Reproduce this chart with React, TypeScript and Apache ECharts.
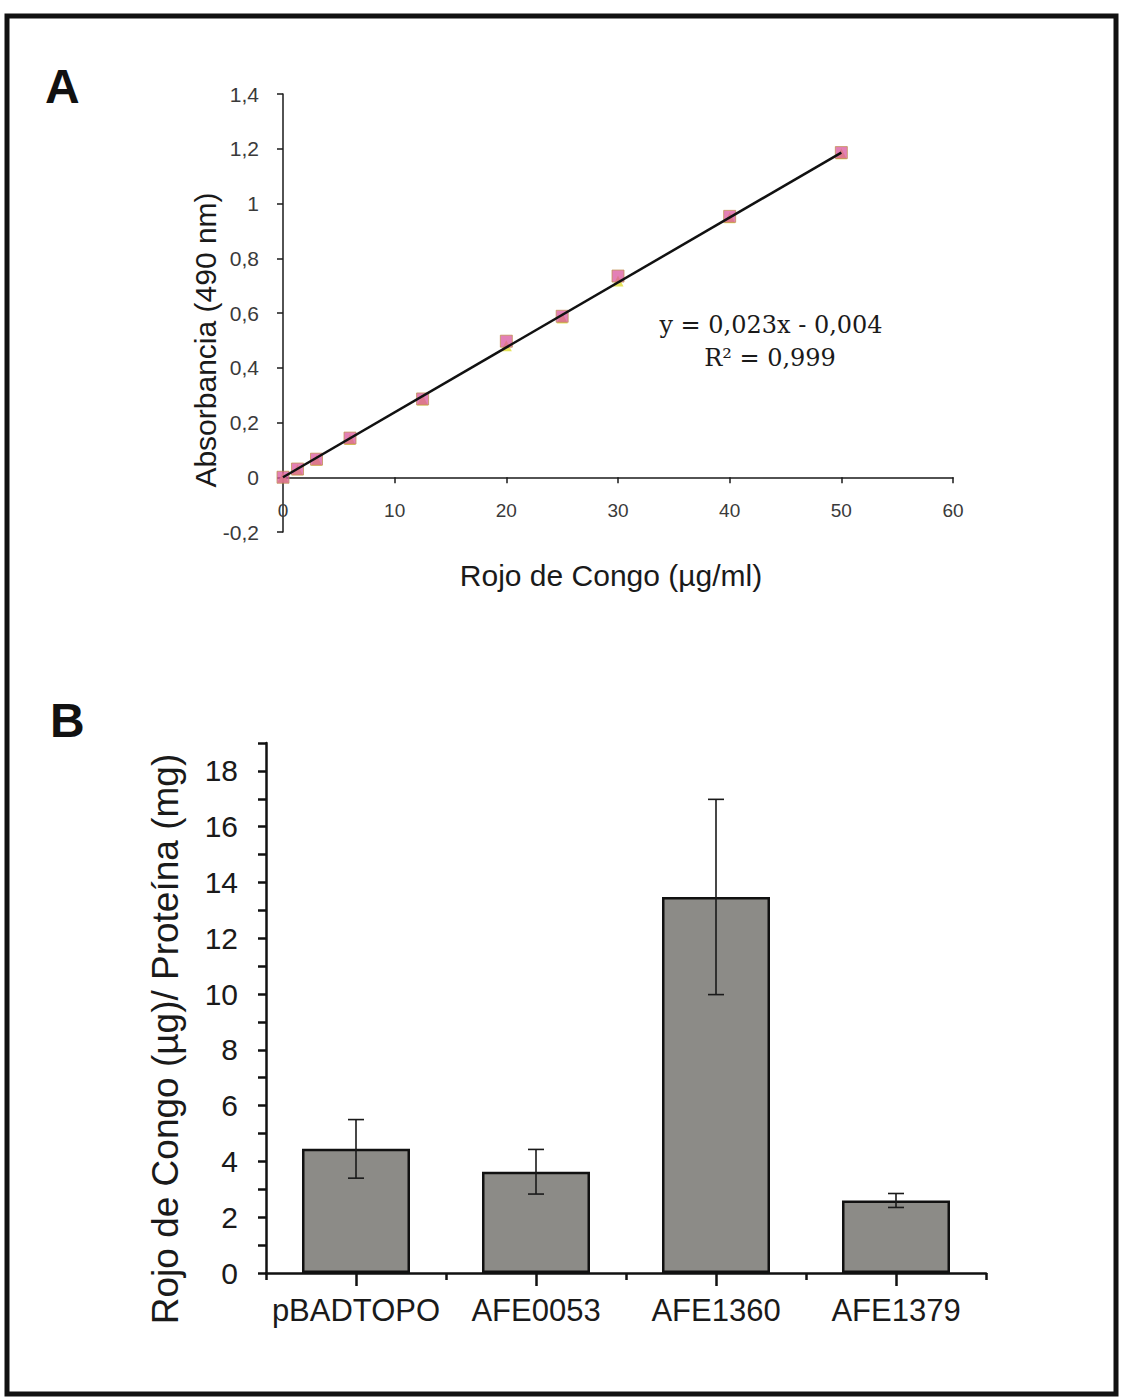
import React, { useEffect, useRef } from "react";
import * as echarts from "echarts";

// Panel A: calibration curve
const concX = [0, 1.3, 3, 6, 12.5, 20, 25, 30, 40, 50];
const absRep1 = [0, 0.03, 0.066, 0.143, 0.286, 0.497, 0.588, 0.735, 0.953, 1.186];
const absRep2 = [0, 0.027, 0.062, 0.138, 0.282, 0.48, 0.582, 0.717, 0.948, 1.182];
const trendX = [0, 50];
const trendY = [0, 1.186];
const yTicksA = [-0.2, 0, 0.2, 0.4, 0.6, 0.8, 1, 1.2, 1.4];
const titleAX = "Rojo de Congo (µg/ml)";
const titleAY = "Absorbancia (490 nm)";
const equationLine1 = "y = 0,023x - 0,004";
const equationLine2 = "R² = 0,999";

// Panel B: bars with error bars
const categories = ["pBADTOPO", "AFE0053", "AFE1360", "AFE1379"];
const means = [4.45, 3.63, 13.48, 2.6];
const errors = [1.05, 0.8, 3.5, 0.25];
const titleBY = "Rojo de Congo (µg)/ Proteína (mg)";

const fmtComma = (v: number) => String(Math.round(v * 10) / 10).replace(".", ",");

export default function App() {
  const ref = useRef<HTMLDivElement>(null);
  useEffect(() => {
    if (!ref.current) return;
    const chart = echarts.init(ref.current, null, { renderer: "svg" });
    const sans = "Liberation Sans, Arial, sans-serif";
    const serif = "DejaVu Serif, Liberation Serif, serif";

    const option: any = {
      animation: false,
      backgroundColor: "#ffffff",
      grid: [
        { left: 283, right: 170, top: 94, height: 438 },
        { left: 266, right: 137, top: 743, height: 530 },
      ],
      xAxis: [
        {
          gridIndex: 0,
          type: "value",
          min: 0,
          max: 60,
          interval: 10,
          splitLine: { show: false },
          axisLine: { onZero: true, lineStyle: { color: "#1a1a1a", width: 1.5 } },
          axisTick: { show: true, inside: false, length: 6, lineStyle: { color: "#1a1a1a", width: 1.5 } },
          axisLabel: { margin: -31, fontFamily: sans, fontSize: 19, color: "#3a3a3a" },
        },
        {
          gridIndex: 1,
          type: "category",
          data: categories,
          axisLine: { lineStyle: { color: "#111", width: 2.5 } },
          axisTick: { show: true, alignWithLabel: false, length: 7, lineStyle: { color: "#111", width: 2.5 } },
          axisLabel: { show: false },
        },
        {
          gridIndex: 1,
          type: "category",
          data: categories,
          position: "bottom",
          offset: 0,
          axisLine: { show: false },
          axisTick: { show: true, alignWithLabel: true, length: 13, lineStyle: { color: "#111", width: 2.5 } },
          axisLabel: { margin: 22, fontFamily: sans, fontSize: 31, color: "#1a1a1a", interval: 0 },
        },
      ],
      yAxis: [
        {
          gridIndex: 0,
          type: "value",
          min: -0.2,
          max: 1.4,
          interval: 0.2,
          splitLine: { show: false },
          axisLine: { show: true, lineStyle: { color: "#1a1a1a", width: 1.5 } },
          axisTick: { show: true, length: 6, lineStyle: { color: "#1a1a1a", width: 1.5 } },
          axisLabel: {
            margin: 24,
            fontFamily: sans,
            fontSize: 21,
            color: "#3a3a3a",
            formatter: (v: number) => fmtComma(v),
            customValues: yTicksA,
          },
        },
        {
          gridIndex: 1,
          type: "value",
          min: 0,
          max: 19,
          interval: 1,
          splitLine: { show: false },
          axisLine: { show: true, lineStyle: { color: "#111", width: 2.5 } },
          axisTick: { show: true, length: 8, lineStyle: { color: "#111", width: 2.5 } },
          axisLabel: {
            margin: 28,
            fontFamily: sans,
            fontSize: 30,
            color: "#1a1a1a",
            formatter: (v: number) => (v % 2 === 0 ? String(v) : ""),
          },
        },
      ],
      series: [
        {
          type: "line",
          xAxisIndex: 0,
          yAxisIndex: 0,
          data: trendX.map((x, i) => [x, trendY[i]]),
          symbol: "none",
          lineStyle: { color: "#111", width: 2.5 },
          z: 3,
        },
        {
          type: "scatter",
          xAxisIndex: 0,
          yAxisIndex: 0,
          data: concX.map((x, i) => [x, absRep2[i]]),
          symbol: "triangle",
          symbolSize: 11,
          itemStyle: { color: "#e2e04a", opacity: 0.9 },
          z: 2,
        },
        {
          type: "scatter",
          xAxisIndex: 0,
          yAxisIndex: 0,
          data: concX.map((x, i) => [x, absRep1[i]]),
          symbol: "rect",
          symbolSize: 12,
          itemStyle: { color: "#d9559e", opacity: 0.75, borderColor: "#c09050", borderWidth: 1 },
          z: 2,
        },
        {
          type: "bar",
          xAxisIndex: 1,
          yAxisIndex: 1,
          data: means,
          barCategoryGap: "40%",
          itemStyle: { color: "#8c8b87", borderColor: "#111", borderWidth: 2.5 },
          z: 2,
        },
        {
          type: "custom",
          xAxisIndex: 1,
          yAxisIndex: 1,
          data: means.map((m, i) => [i, m - errors[i], m + errors[i]]),
          z: 5,
          renderItem: (params: any, api: any) => {
            const idx = api.value(0);
            const lo = api.coord([idx, api.value(1)]);
            const hi = api.coord([idx, api.value(2)]);
            const half = 8;
            const style = { stroke: "#1a1a1a", lineWidth: 1.6 };
            return {
              type: "group",
              children: [
                { type: "line", shape: { x1: hi[0], y1: hi[1], x2: lo[0], y2: lo[1] }, style },
                { type: "line", shape: { x1: hi[0] - half, y1: hi[1], x2: hi[0] + half, y2: hi[1] }, style },
                { type: "line", shape: { x1: lo[0] - half, y1: lo[1], x2: lo[0] + half, y2: lo[1] }, style },
              ],
            };
          },
        },
      ],
      graphic: [
        {
          type: "rect",
          shape: { x: 7, y: 16, width: 1109, height: 1378 },
          style: { fill: "none", stroke: "#111", lineWidth: 5 },
          z: 10,
        },
        {
          type: "text",
          left: 45,
          top: 62,
          style: { text: "A", fontFamily: sans, fontWeight: "bold", fontSize: 48, fill: "#111" },
        },
        {
          type: "text",
          left: 50,
          top: 696,
          style: { text: "B", fontFamily: sans, fontWeight: "bold", fontSize: 48, fill: "#111" },
        },
        {
          type: "text",
          x: 611,
          y: 575,
          style: {
            text: titleAX,
            fontFamily: sans,
            fontSize: 30,
            fill: "#1a1a1a",
            align: "center",
            verticalAlign: "middle",
          },
        },
        {
          type: "text",
          x: 205,
          y: 340,
          rotation: Math.PI / 2,
          style: {
            text: titleAY,
            fontFamily: sans,
            fontSize: 30,
            fill: "#1a1a1a",
            align: "center",
            verticalAlign: "middle",
          },
        },
        {
          type: "text",
          x: 165,
          y: 1039,
          rotation: Math.PI / 2,
          style: {
            text: titleBY,
            fontFamily: sans,
            fontSize: 37,
            fill: "#1a1a1a",
            align: "center",
            verticalAlign: "middle",
          },
        },
        {
          type: "text",
          x: 771,
          y: 325,
          style: {
            text: equationLine1,
            fontFamily: serif,
            fontSize: 24,
            fill: "#1a1a1a",
            align: "center",
            verticalAlign: "middle",
          },
        },
        {
          type: "text",
          x: 770,
          y: 358,
          style: {
            text: equationLine2,
            fontFamily: serif,
            fontSize: 24,
            fill: "#1a1a1a",
            align: "center",
            verticalAlign: "middle",
          },
        },
      ],
    };
    chart.setOption(option);
    return () => chart.dispose();
  }, []);

  return (
    <div
      ref={ref}
      style={{ position: "absolute", left: 0, top: 0, width: 1123, height: 1399, background: "#fff" }}
    />
  );
}
